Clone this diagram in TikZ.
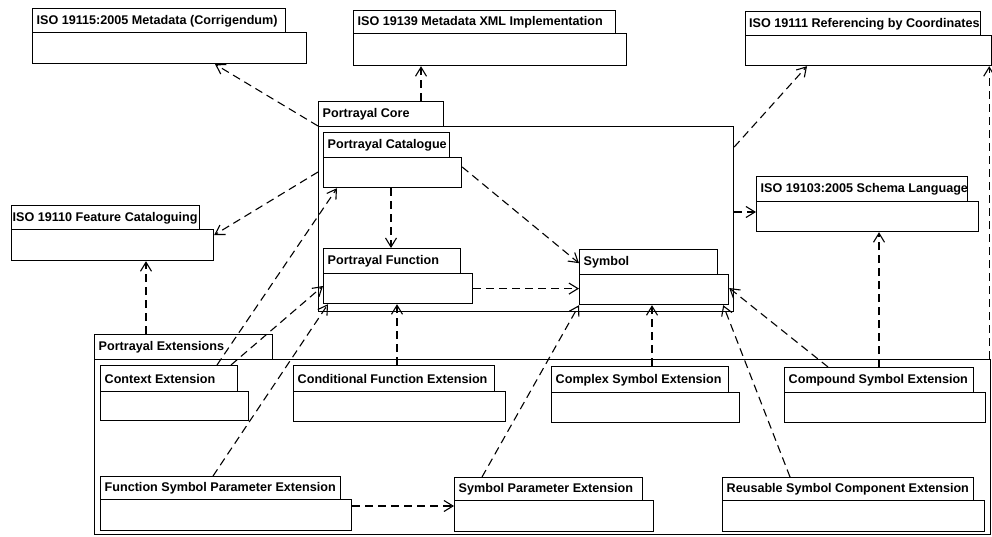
\documentclass[tikz,border=0pt]{standalone}
\usepackage{fontspec}
\setmainfont{Liberation Sans}
\usetikzlibrary{arrows.meta,calc}

\tikzset{
  pkgtab/.style={draw, line width=1.2pt, anchor=north west, inner sep=0pt},
  pkgbody/.style={draw, line width=1.2pt, anchor=north west, inner sep=0pt},
  pkglabel/.style={anchor=west, inner sep=0pt,
    font=\bfseries\fontsize{12.6}{14}\selectfont},
  dep/.style={line width=1.1pt, dash pattern=on 8pt off 5pt,
    -{Straight Barb[length=9pt,width=11pt,line width=1.1pt]}},
}

% UML package: [label options]{name}{left}{tab top}{tab right}{tab bottom}{body right}{body bottom}{title}
\newcommand\umlpkg[9][]{%
  \pgfmathsetmacro\pkgtw{#5-#3}%
  \pgfmathsetmacro\pkgth{#6-#4}%
  \pgfmathsetmacro\pkgbw{#7-#3}%
  \pgfmathsetmacro\pkgbh{#8-#6}%
  \node[pkgtab, minimum width=\pkgtw pt, minimum height=\pkgth pt] (#2-tab) at (#3,#4) {};
  \node[pkgbody, minimum width=\pkgbw pt, minimum height=\pkgbh pt] (#2) at (#3,#6) {};
  \node[pkglabel, #1] (#2-lbl) at ($(#2-tab.west)+(4.5,0.5)$) {#9};
}

\begin{document}
\begin{tikzpicture}[x=1pt, y=-1pt]
\useasboundingbox[fill=white] (0,0) rectangle (992,537);

% external standards
\umlpkg{iso19115}{32}{8}{285}{32}{306}{63}{ISO 19115:2005 Metadata (Corrigendum)}
\umlpkg{iso19139}{353}{10}{615}{33}{626}{65}{ISO 19139 Metadata XML Implementation}
\umlpkg[xshift=-0.5pt]{iso19111}{745}{11}{980}{35}{991}{65}{ISO 19111 Referencing by Coordinates}
\umlpkg{iso19103}{756}{176}{967}{201}{978}{231}{ISO 19103:2005 Schema Language}
\umlpkg[xshift=-3pt]{iso19110}{11}{205}{199}{229}{213}{260}{ISO 19110 Feature Cataloguing}

% portrayal core
\umlpkg{core}{318}{101}{443}{126}{733}{311}{Portrayal Core}
\umlpkg{cat}{323}{132}{449}{157}{461}{187}{Portrayal Catalogue}
\umlpkg{func}{323}{248}{460}{273}{472}{303}{Portrayal Function}
\umlpkg{sym}{579}{249}{717}{274}{728}{304}{Symbol}

% portrayal extensions
\umlpkg{ext}{94}{334}{272}{359}{990}{534}{Portrayal Extensions}
\umlpkg{ctx}{100}{365}{237}{391}{248}{420}{Context Extension}
\umlpkg{cond}{293}{365}{494}{391}{505}{421}{Conditional Function Extension}
\umlpkg{cplx}{551}{366}{728}{392}{739}{422}{Complex Symbol Extension}
\umlpkg{comp}{784}{367}{973}{392}{985}{422}{Compound Symbol Extension}
\umlpkg{fsp}{100}{476}{340}{499}{351}{530}{Function Symbol Parameter Extension}
\umlpkg{spe}{454}{477}{642}{500}{653}{531}{Symbol Parameter Extension}
\umlpkg{rsc}{722}{477}{973}{500}{984}{531}{Reusable Symbol Component Extension}

% dependencies of the core
\draw[dep] (core.north west) -- ($(iso19115.south west)+(183,0)$);
\draw[dep] ($(core-tab.north west)+(103,0)$) -- ($(iso19139.south west)+(68,0)$);
\draw[dep] ($(core.north east)+(0,21)$) -- ($(iso19111.south west)+(62,0)$);
\draw[dep] ($(core.north west)+(0,46)$) -- ($(iso19110.north east)+(0,6)$);
\coordinate (schemaIn) at ($(iso19103.north west)+(0,11)$);
\draw[dep] (core.east |- schemaIn) -- (schemaIn);

% inside the core
\draw[dep] ($(cat.south west)+(68,0)$) -- ($(func-tab.north west)+(68,0)$);
\draw[dep] ($(cat.north east)+(0,10)$) -- ($(sym-tab.south west)+(0,-12)$);
\draw[dep] (func.east) -- (func.east -| sym.west);

% dependencies of the extensions
\draw[dep] ($(ext-tab.north west)+(52,0)$) -- ($(iso19110.south west)+(135,0)$);
\draw[dep] ($(ext.north east)+(-2,0)$) -- ($(iso19111.south east)+(-3,0)$);
\draw[dep] ($(comp-tab.north west)+(95,0)$) -- ($(iso19103.south west)+(123,0)$);
\draw[dep] ($(ctx-tab.north west)+(117,0)$) -- ($(cat.south west)+(14,0)$);
\draw[dep] ($(ctx-tab.north west)+(131,0)$) -- ($(func.north west)+(0,13)$);
\draw[dep] ($(fsp-tab.north west)+(113,0)$) -- ($(func.south west)+(5,0)$);
\draw[dep] ($(cond-tab.north west)+(104,0)$) -- ($(func.south west)+(74,0)$);
\coordinate (fspOut) at ($(fsp.north east)+(0,7)$);
\draw[dep] (fspOut) -- (fspOut -| spe.west);
\draw[dep] ($(spe-tab.north west)+(28,0)$) -- (sym.south west);
\draw[dep] ($(cplx-tab.north west)+(101,0)$) -- ($(sym.south west)+(73,0)$);
\draw[dep] ($(rsc-tab.north west)+(68,0)$) -- ($(sym.south east)+(-6,0)$);
\draw[dep] ($(comp-tab.north west)+(44,0)$) -- ($(sym.north east)+(0,14)$);
\end{tikzpicture}
\end{document}
